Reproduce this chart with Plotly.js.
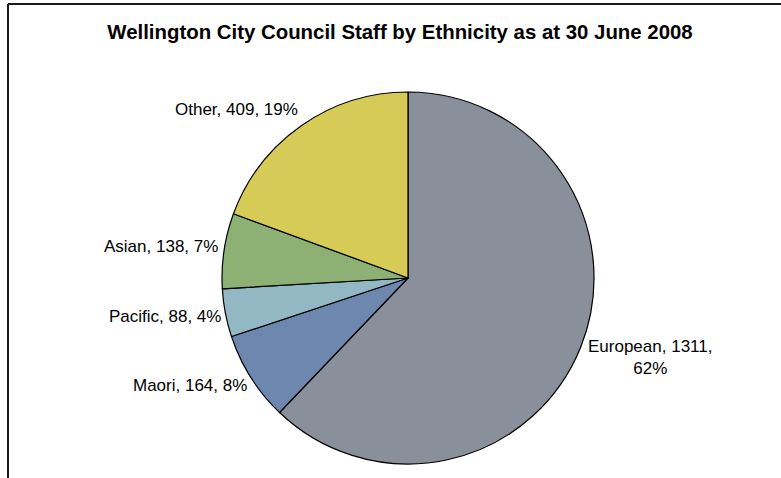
<!DOCTYPE html>
<html>
<head>
<meta charset="utf-8">
<script src="https://cdn.plot.ly/plotly-3.0.1.min.js"></script>
<style>
  html, body { margin: 0; padding: 0; background: #fff; }
  #chart { width: 781px; height: 478px; }
</style>
</head>
<body>
<div id="chart"></div>
<script>
const categories = ["European", "Maori", "Pacific", "Asian", "Other"];
const staffCounts = [1311, 164, 88, 138, 409];
const sliceColors = ["#898F9B", "#6E87AF", "#92B8C3", "#8DB174", "#D6CB57"];
const chartTitle = "Wellington City Council Staff by Ethnicity as at 30 June 2008";

// label placement tweaks (pixels), in slice order
const labelShiftX = [5, -2, -2, -4, -2];
const labelShiftY = [-10, -8, -4, 4, 16];
const labelWrap = [true, false, false, false, false];

const W = 781, H = 478;
const margin = { l: 35, r: 0, t: 92, b: 14 };
const plotW = W - margin.l - margin.r;
const plotH = H - margin.t - margin.b;
const px2x = px => (px - margin.l) / plotW;
const px2y = py => (H - margin.b - py) / plotH;
const FONT = "Liberation Sans, Arial, sans-serif";

const total = staffCounts.reduce((a, b) => a + b, 0);
const cx = margin.l + plotW / 2, cy = margin.t + plotH / 2;
const R = Math.min(plotW, plotH) / 2;

const annotations = [];
let cum = 0;
staffCounts.forEach((v, i) => {
  const mid = (cum + v / 2) / total;
  cum += v;
  const ang = mid * 2 * Math.PI;
  const px = cx + R * Math.sin(ang);
  const py = cy - R * Math.cos(ang);
  const pct = Math.round(100 * v / total);
  const sep = labelWrap[i] ? ",<br>" : ", ";
  const text = categories[i] + ", " + v + sep + pct + "%";
  const rightSide = Math.sin(ang) > 0;
  annotations.push({
    xref: "paper", yref: "paper",
    x: px2x(px), y: px2y(py),
    text: text,
    showarrow: false,
    xanchor: rightSide ? "left" : "right",
    yanchor: "middle",
    align: "center",
    xshift: labelShiftX[i], yshift: labelShiftY[i],
    font: { family: FONT, size: 17, color: "#000" }
  });
});

const trace = {
  type: "pie",
  labels: categories,
  values: staffCounts,
  textinfo: "none",
  sort: false,
  direction: "clockwise",
  rotation: 0,
  marker: { colors: sliceColors, line: { color: "#000", width: 1.2 } },
  hoverinfo: "label+value+percent",
  showlegend: false,
  automargin: false
};

const layout = {
  width: W, height: H,
  margin: margin,
  paper_bgcolor: "#fff",
  plot_bgcolor: "#fff",
  showlegend: false,
  annotations: annotations,
  title: {
    text: "<b>" + chartTitle + "</b>",
    font: { family: FONT, size: 20.4, color: "#000" },
    x: 400 / W, xref: "container", xanchor: "center",
    y: 1 - 32 / H, yref: "container", yanchor: "middle"
  },
  shapes: [
    { type: "line", xref: "paper", yref: "paper", x0: px2x(8), x1: px2x(790), y0: px2y(4), y1: px2y(4), line: { color: "#1a1a1a", width: 2 } },
    { type: "line", xref: "paper", yref: "paper", x0: px2x(8), x1: px2x(8), y0: px2y(4), y1: px2y(490), line: { color: "#1a1a1a", width: 2 } }
  ]
};

Plotly.newPlot("chart", [trace], layout, { displayModeBar: false, staticPlot: true });
</script>
</body>
</html>
